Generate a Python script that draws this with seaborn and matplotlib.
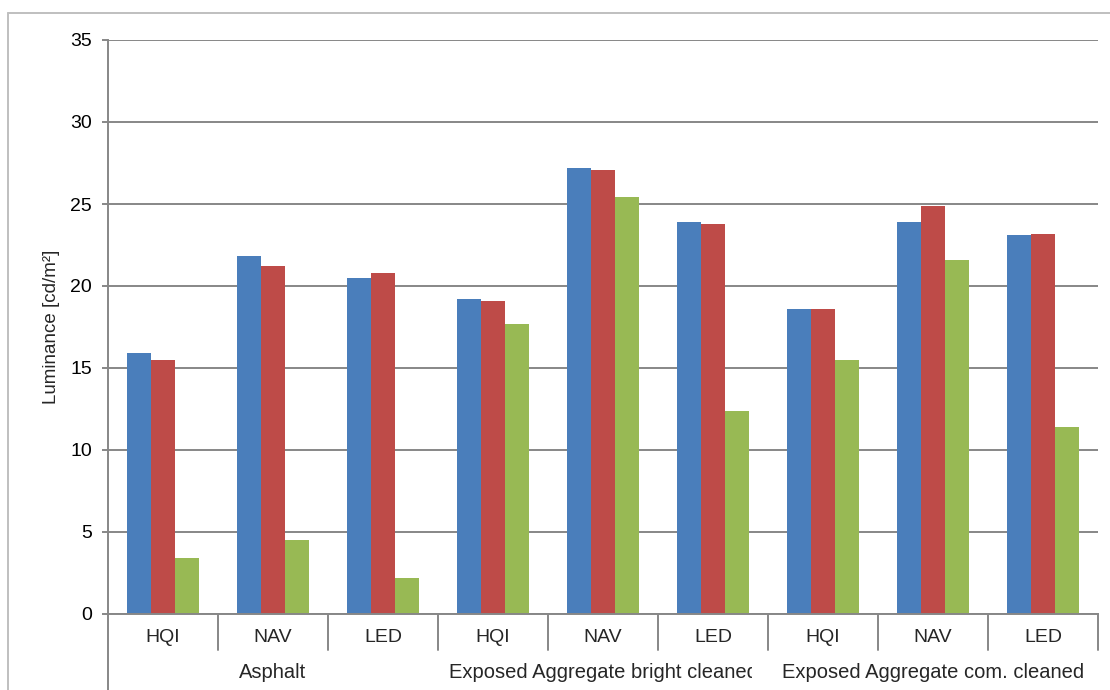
import pandas as pd
import seaborn as sns
import matplotlib.pyplot as plt
from matplotlib.lines import Line2D
from matplotlib.transforms import blended_transform_factory, Bbox, TransformedBbox

# data
surfaces = ["Asphalt", "Exposed Aggregate bright cleaned", "Exposed Aggregate com. cleaned"]
lamps = ["HQI", "NAV", "LED"]
series_names = ["Series 1", "Series 2", "Series 3"]

series1 = [15.9, 21.8, 20.5, 19.2, 27.2, 23.9, 18.6, 23.9, 23.1]
series2 = [15.5, 21.2, 20.8, 19.1, 27.1, 23.8, 18.6, 24.9, 23.2]
series3 = [3.4, 4.5, 2.2, 17.7, 25.4, 12.4, 15.5, 21.6, 11.4]

colors = ["#4A7EBB", "#BE4B48", "#98B954"]
GRID = "#878787"

# long table for seaborn
cats = [s + "|" + l for s in surfaces for l in lamps]
rows = []
for name, vals in zip(series_names, [series1, series2, series3]):
    for c, v in zip(cats, vals):
        rows.append({"cat": c, "series": name, "value": v})
df = pd.DataFrame(rows)

sns.set_style("white")
plt.rcParams["font.family"] = ["Liberation Sans", "DejaVu Sans"]

W, H = 1110, 690
fig = plt.figure(figsize=(W / 100, H / 100), dpi=100)
ax = fig.add_axes([108 / W, 76 / H, 990 / W, 574 / H])

sns.barplot(data=df, x="cat", y="value", hue="series", order=cats,
            hue_order=series_names, palette=colors, width=0.66, saturation=1,
            errorbar=None, legend=False, linewidth=0, ax=ax)

ax.set_xlim(-0.5, 8.5)
ax.set_ylim(0, 35)
ax.set_yticks(range(0, 36, 5))
ax.set_xticks([])
ax.set_xlabel("")
ax.set_ylabel("")
ax.yaxis.grid(True, color=GRID, linewidth=1.4)
ax.set_axisbelow(True)
for s in ["top", "right"]:
    ax.spines[s].set_visible(False)
for s in ["left", "bottom"]:
    ax.spines[s].set_color(GRID)
    ax.spines[s].set_linewidth(1.4)
ax.tick_params(axis="y", left=True, length=4.5, width=1.4, color=GRID,
               pad=7, labelsize=14, labelcolor="black")

# two-level category axis
trans = blended_transform_factory(ax.transData, ax.transAxes)
ah = 574.0
for k in range(10):
    y0 = -76 / ah if k == 0 else -36 / ah
    ax.add_line(Line2D([k - 0.5, k - 0.5], [0, y0], transform=trans,
                       color=GRID, linewidth=1.4, clip_on=False))
for i, c in enumerate(cats):
    ax.text(i, -23 / ah, c.split("|")[1], transform=trans, ha="center",
            va="center", fontsize=14)
for g, s in enumerate(surfaces):
    t = ax.text(3 * g + 1, -58 / ah, s, transform=trans, ha="center",
                va="center", fontsize=14.5)
    # excel cuts the middle label off before the next one starts
    right = 3 * g + 2.35 if g < 2 else 3 * g + 2.6
    t.set_clip_box(TransformedBbox(Bbox([[3 * g - 0.5, -1], [right, 0]]), trans))
    t.set_clip_on(True)

fig.text(52 / W, 1 - 327 / H, "Luminance [cd/m²]", rotation=90,
         ha="center", va="center", fontsize=13.5)

# chart area border
fig.add_artist(Line2D([8 / W, 8 / W], [0, 1 - 13 / H], transform=fig.transFigure,
                      color="#BFBFBF", linewidth=1.4))
fig.add_artist(Line2D([8 / W, 1], [1 - 13 / H, 1 - 13 / H], transform=fig.transFigure,
                      color="#BFBFBF", linewidth=1.4))

fig.savefig("out.png", dpi=100)
